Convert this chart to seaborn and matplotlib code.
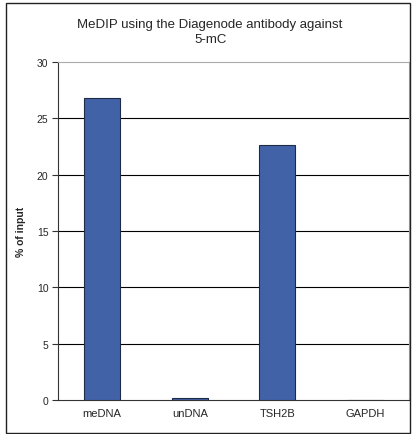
import matplotlib
matplotlib.use("Agg")
import matplotlib.pyplot as plt
import seaborn as sns
import pandas as pd
from matplotlib.patches import Rectangle

categories = ["meDNA", "unDNA", "TSH2B", "GAPDH"]
pct_input = [26.8, 0.15, 22.6, 0.0]
y_ticks = [0, 5, 10, 15, 20, 25, 30]

df = pd.DataFrame({"target": categories, "pct": pct_input})

sns.set_style("white")
plt.rcParams["font.family"] = ["Liberation Sans", "DejaVu Sans"]

fig = plt.figure(figsize=(4.12, 4.35), dpi=100)
ax = fig.add_axes([0.141, 0.078, 0.852, 0.777])

sns.barplot(data=df, x="target", y="pct", color="#4262A8", width=0.41,
            edgecolor="#1F2A44", linewidth=0.8, saturation=1, ax=ax, zorder=3)

ax.set_ylim(0, 30)
ax.set_xlim(-0.5, 3.5)
ax.set_yticks(y_ticks)
ax.set_yticklabels([str(t) for t in y_ticks], fontsize=7.5)
ax.set_xticks(range(len(categories)))
ax.set_xticklabels(categories, fontsize=8)
ax.tick_params(axis="x", which="major", length=0, pad=6)
ax.set_xticks([-0.5, 0.5, 1.5, 2.5, 3.5], minor=True)
ax.tick_params(axis="x", which="minor", length=4, width=0.8, color="#333333", direction="out")
ax.tick_params(axis="y", length=4, width=0.8, color="#333333", direction="out", pad=3, left=True)

for t in y_ticks[1:-1]:
    ax.axhline(t, color="black", linewidth=0.8, zorder=1)

ax.set_xlabel("")
ax.set_ylabel("% of input", fontsize=7.5, fontweight="bold", labelpad=8)

for side in ["left", "bottom"]:
    ax.spines[side].set_color("#333333")
    ax.spines[side].set_linewidth(0.8)
for side in ["top", "right"]:
    ax.spines[side].set_color("#AAAAAA")
    ax.spines[side].set_linewidth(0.8)

fig.text(0.51, 0.925, "MeDIP using the Diagenode antibody against\n5-mC",
         ha="center", va="center", fontsize=9.5, linespacing=1.3)

fig.patches.append(Rectangle((6 / 412, 0.002), 404 / 412, 1 - 4 / 435 - 0.002,
                             transform=fig.transFigure, fill=False,
                             edgecolor="#222222", linewidth=1.0))

fig.savefig("out.png", dpi=100)
